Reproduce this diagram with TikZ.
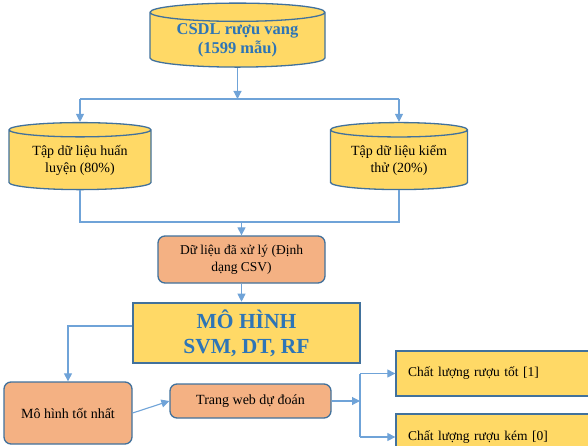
\documentclass[tikz,border=0pt]{standalone}
\usepackage{fontspec}
\setmainfont{Liberation Serif}
\usetikzlibrary{shapes.geometric,arrows.meta}
\definecolor{boxline}{HTML}{41719C}
\definecolor{linkline}{HTML}{6FA3D8}
\definecolor{dbfill}{HTML}{FFD966}
\definecolor{procfill}{HTML}{F4B183}
\definecolor{titleblue}{HTML}{2E75B6}

\begin{document}
\begin{tikzpicture}[x=1pt,y=-1pt,
  db/.style={cylinder, shape border rotate=90, aspect=0.15, draw=boxline, line width=1.3pt, fill=dbfill, align=center, inner sep=0pt},
  proc/.style={rectangle, rounded corners=7pt, draw=boxline, line width=1.3pt, fill=procfill, align=center, inner sep=0pt},
  outbox/.style={rectangle, draw=boxline, line width=1.3pt, fill=dbfill, align=left, text width=186pt, inner xsep=12pt, minimum width=210pt, font=\fontsize{13.5}{16}\selectfont},
  link/.style={draw=linkline, line width=1.1pt},
  >={Triangle[length=8pt,width=8pt]}]
 \useasboundingbox (0,0) rectangle (588,446);
 \clip (0,0) rectangle (588,446);
 \node (csdl)  [db, minimum width=175pt, minimum height=64pt, text=titleblue, font=\bfseries\fontsize{16.5}{19}\selectfont] at (237.5,40) {CSDL rượu vang\\(1599 mẫu)};
 \node (train) [db, minimum width=142pt, minimum height=67pt, font=\fontsize{14}{17}\selectfont] at (80,160) {Tập dữ liệu huấn\\luyện (80\%)};
 \node (test)  [db, minimum width=137pt, minimum height=67pt, font=\fontsize{14}{17}\selectfont] at (399,160) {Tập dữ liệu kiểm\\thử (20\%)};
 \node (data)  [proc, minimum width=167pt, minimum height=47pt, font=\fontsize{13.5}{17}\selectfont] at (241.5,259.5) {Dữ liệu đã xử lý (Định\\dạng CSV)};
 \node (model) [rectangle, draw=boxline, line width=2.6pt, fill=dbfill, align=center, minimum width=227pt, minimum height=60pt, inner sep=0pt, text=titleblue, font=\bfseries\fontsize{21.5}{25}\selectfont] at (246.5,333) {MÔ HÌNH\\SVM, DT, RF};
 \node (best)  [proc, minimum width=128pt, minimum height=62pt, font=\fontsize{14}{17}\selectfont] at (68,413) {Mô hình tốt nhất};
 \node (web)   [proc, minimum width=161pt, minimum height=34pt, font=\fontsize{14}{17}\selectfont] at (250.5,401) {Trang web dự đoán};
 \node (good)  [outbox, minimum height=45pt] at (501,373.5) {Chất lượng rượu tốt [1]};
 \node (bad)   [outbox, minimum height=46pt] at (501,437) {Chất lượng rượu kém [0]};
 \coordinate (split) at (237.5,99);
 \coordinate (join) at (241.5,222);
 \coordinate (fork) at (360,401);
 \draw [link, ->] (csdl.south) -- (split);
 \draw [link] (train.north |- split) -- (test.north |- split);
 \draw [link, ->] (train.north |- split) -- (train.north);
 \draw [link, ->] (test.north |- split) -- (test.north);
 \draw [link] (train.south) -- (train.south |- join) -- (test.south |- join) -- (test.south);
 \draw [link, ->] (join) -- (data.north);
 \draw [link, ->] (data.south) -- (data.south |- model.north);
 \draw [link, ->] ([yshift=7pt]model.west) -| (best.north);
 \draw [link, ->] (best.east) -- (web.west);
 \draw [link, ->] (web.east) -- (fork);
 \draw [link] (fork |- good.west) -- (fork |- bad.west);
 \draw [link, ->] (fork |- good.west) -- (good.west);
 \draw [link, ->] (fork |- bad.west) -- (bad.west);
\end{tikzpicture}
\end{document}
